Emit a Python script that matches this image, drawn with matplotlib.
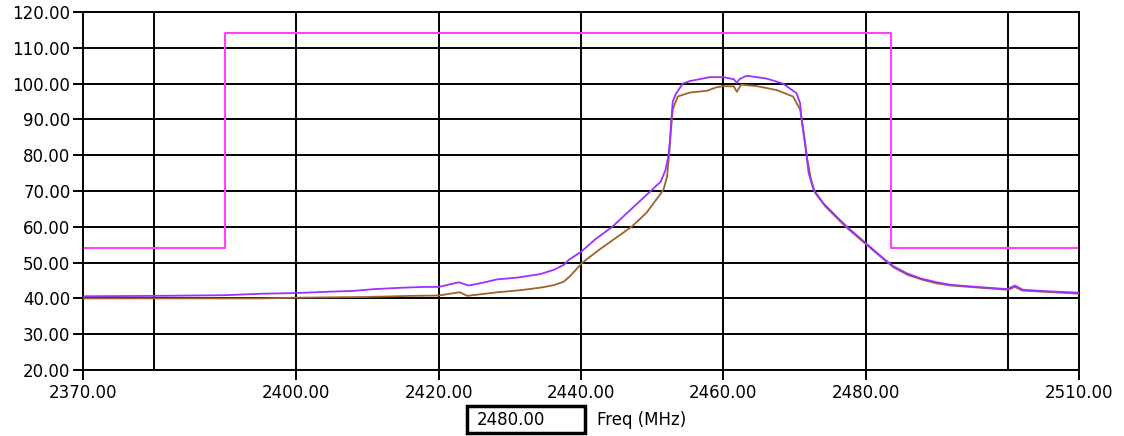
import matplotlib
matplotlib.use("Agg")
import matplotlib.pyplot as plt
from matplotlib.patches import Rectangle

# ---- data ----
mask_edges = [2370, 2390, 2483.6, 2510]
mask_levels = [54, 114, 54, 54]

purple_freq = [2370, 2380, 2390, 2395, 2400, 2405, 2408, 2411, 2415, 2418, 2420,
               2422.8, 2424.2, 2425.8, 2428.2, 2431, 2434.3, 2436.2, 2437.6, 2438.3,
               2440, 2442, 2444.4, 2447.2, 2449.8, 2451.2, 2451.9, 2452.3, 2452.5,
               2452.7, 2452.9, 2453.3, 2454.3, 2455.3, 2458.1, 2460, 2461.5, 2461.9,
               2462.3, 2463.3, 2466.1, 2468.4, 2470.3, 2470.8, 2471.0, 2471.5, 2471.7,
               2472.0, 2472.7, 2474.1, 2476.4, 2477.4, 2479.7, 2482.5, 2483.9, 2485.8,
               2487.7, 2490, 2491.9, 2495.7, 2499.9, 2501, 2502.1, 2505.5, 2510]
purple_level = [40.6, 40.7, 40.9, 41.3, 41.5, 41.9, 42.1, 42.6, 43.0, 43.2, 43.2,
                44.5, 43.6, 44.2, 45.3, 45.8, 46.8, 48.0, 49.4, 50.8,
                53.0, 56.5, 60.0, 65.2, 70.0, 72.6, 76.0, 80.0, 84.0,
                90.0, 95.0, 97.0, 100.0, 100.7, 101.8, 101.8, 101.2, 100.2,
                101.3, 102.2, 101.4, 100.0, 97.3, 94.5, 90.0, 83.0, 80.0,
                75.0, 70.3, 66.5, 61.9, 60.0, 56.0, 51.2, 49.0, 47.0,
                45.6, 44.5, 43.8, 43.2, 42.6, 43.6, 42.4, 42.0, 41.6]

brown_freq = [2370, 2395, 2400, 2410, 2416, 2420, 2422.5, 2423, 2424, 2428.2,
              2431.5, 2434.3, 2436.2, 2437.6, 2438.5, 2440.2, 2442.7, 2447.1, 2449.2,
              2451.1, 2451.6, 2452.1, 2452.4, 2452.6, 2452.9, 2453.6, 2455.3, 2457.7,
              2459.1, 2460, 2461.5, 2461.9, 2462.5, 2464.7, 2467.5, 2469.8, 2470.8,
              2471.3, 2471.8, 2472.3, 2472.9, 2474.3, 2476.6, 2477.6, 2479.9, 2482.5,
              2484, 2486, 2488, 2490, 2492, 2496, 2500, 2501, 2502, 2505.5, 2510]
brown_level = [40.0, 40.0, 40.2, 40.4, 40.7, 40.8, 41.6, 41.7, 40.7, 41.7,
               42.3, 43.0, 43.7, 44.7, 46.3, 50.0, 53.8, 60.0, 63.9,
               69.0, 70.4, 74.0, 80.5, 86.0, 92.8, 96.4, 97.5, 98.0,
               99.0, 99.3, 99.2, 97.7, 99.7, 99.3, 98.2, 96.4, 92.8,
               86.5, 79.0, 73.5, 69.5, 65.8, 61.2, 59.3, 55.4, 51.0,
               48.6, 46.5, 45.2, 44.2, 43.6, 43.0, 42.4, 43.2, 42.2, 41.8, 41.3]

x_ticks = [2370, 2400, 2420, 2440, 2460, 2480, 2510]
x_grid = [2380, 2400, 2420, 2440, 2460, 2480, 2500]
y_ticks = [20, 30, 40, 50, 60, 70, 80, 90, 100, 110, 120]
marker_text = "2480.00"
xlabel_text = "Freq (MHz)"

# ---- figure ----
fig = plt.figure(figsize=(11.24, 4.36), dpi=100)
ax = fig.add_axes([83/1124, 1-370/436, (1079-83)/1124, (370-12)/436])

ax.set_xlim(2370, 2510)
ax.set_ylim(20, 120)

for g in x_grid:
    ax.axvline(g, color='black', lw=1.4, zorder=1)
for v in y_ticks:
    ax.axhline(v, color='black', lw=1.4, zorder=1)

ax.step(mask_edges, mask_levels, where='post', color='#ff40ff', lw=1.5, zorder=2)
ax.plot(brown_freq, brown_level, color='#a0622d', lw=1.3, zorder=3)
ax.plot(purple_freq, purple_level, color='#9b30ff', lw=1.3, zorder=4)

ax.set_xticks(x_ticks)
ax.set_xticklabels([f"{t:.2f}" for t in x_ticks])
ax.set_yticks(y_ticks)
ax.set_yticklabels([f"{t:.2f}" for t in y_ticks])
ax.tick_params(axis='x', direction='out', length=7, width=1.4, pad=3, labelsize=12)
ax.tick_params(axis='y', direction='out', length=7, width=1.4, pad=2, labelsize=12)
for s in ax.spines.values():
    s.set_color('black')
    s.set_linewidth(1.4)

# marker box and axis label
fig.patches.append(Rectangle((467/1124, 1-433/436), 118/1124, 27/436,
                             transform=fig.transFigure, fill=False,
                             edgecolor='black', lw=2.5))
fig.text(477/1124, 1-420/436, marker_text, fontsize=12, va='center', ha='left')
fig.text(597/1124, 1-420/436, xlabel_text, fontsize=12, va='center', ha='left')

fig.savefig("out.png", dpi=100)
